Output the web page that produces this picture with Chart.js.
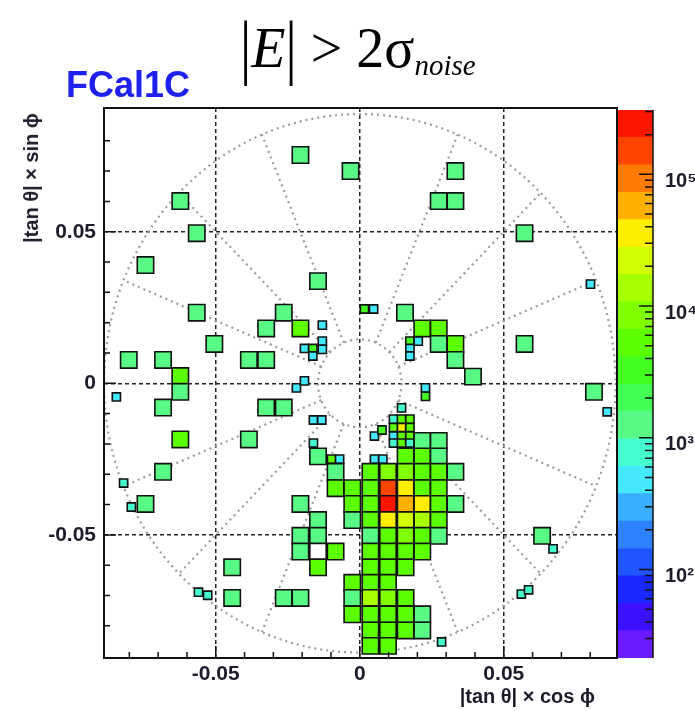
<!DOCTYPE html>
<html>
<head>
<meta charset="utf-8">
<script src="https://cdn.jsdelivr.net/npm/chart.js@4.4.1/dist/chart.umd.min.js"></script>
<style>
  html, body { margin: 0; padding: 0; background: #fff; }
  #wrap { position: relative; width: 695px; height: 711px; overflow: hidden; font-family: "Liberation Sans", Arial, sans-serif; }
  #main { position: absolute; left: 0; top: 0; }
  #zbar { position: absolute; left: 600px; top: 0; }
  .txt { position: absolute; white-space: nowrap; line-height: 1; }
  #formula { left: 240px; top: 20px; font-family: "Liberation Serif", serif; font-size: 56px; color: #000; }
  #formula .bar { display: inline-block; transform: scaleY(1.3); transform-origin: 50% 62%; }
  #formula .sub { font-size: 29px; position: relative; top: 8px; }
  #det { left: 66px; top: 67px; font-size: 36px; font-weight: bold; color: #2020ee; }
  #ytitle { left: 31px; top: 178px; font-size: 20px; font-weight: bold; color: #1c1c2c; transform: translate(-50%, -50%) rotate(-90deg); }
  #xtitle { right: 100px; top: 686px; font-size: 20px; font-weight: bold; color: #1c1c2c; }
</style>
</head>
<body>
<div id="wrap">
  <canvas id="main" width="695" height="711"></canvas>
  <canvas id="zbar" width="95" height="711"></canvas>
  <div class="txt" id="formula"><span class="bar">|</span><i>E</i><span class="bar">|</span> &gt; 2σ<i class="sub">noise</i></div>
  <div class="txt" id="det">FCal1C</div>
  <div class="txt" id="ytitle">|tan θ| × sin ϕ</div>
  <div class="txt" id="xtitle">|tan θ| × cos ϕ</div>
</div>
<script>
// cells: centre (|tan θ| cos ϕ, |tan θ| sin ϕ), content, cell kind (L = full tile, S = small edge tile)
const cellX = [
  // upper half
  -0.0206, -0.0032, 0.0332, -0.0623, 0.0274, 0.0332, -0.0566, 0.0572, -0.0744, -0.0145,
  0.0801, -0.0566, -0.0264, 0.0157, 0.0016, 0.0048, -0.0325, -0.0206, -0.0130, 0.0217,
  0.0274, -0.0505, 0.0274, 0.0332, 0.0572, -0.0130, -0.0130, -0.0192, -0.0163, -0.0163,
  0.0174, 0.0203, 0.0174, 0.0174, -0.0802, -0.0683, -0.0385, -0.0325, 0.0332, -0.0623, 0.0393,
  // middle and outer ring
  -0.0623, -0.0683, -0.0845, -0.0220, -0.0192, 0.0228, 0.0228, 0.0813, 0.0859, -0.0325,
  -0.0264, -0.0161, -0.0132, -0.0623, -0.0385, -0.0161, -0.0683, -0.0820, -0.0744, -0.0793,
  -0.0443, -0.0443, -0.0264, -0.0206, -0.0560, -0.0528, 0.0633, 0.0671, 0.0561, 0.0586, 0.0284,
  // small tiles next to the beam pipe
  0.0145, 0.0117, 0.0145, 0.0174, 0.0117, 0.0145, 0.0174, 0.0117, 0.0145, 0.0174,
  0.0117, 0.0145, 0.0174, 0.0051, 0.0077, 0.0051, 0.0080, -0.0098, -0.0070,
  // hot cluster
  0.0217, 0.0274,
  -0.0145, 0.0159, 0.0217, 0.0274,
  -0.0084, 0.0037, 0.0098, 0.0159, 0.0217, 0.0274, 0.0332,
  -0.0084, -0.0026, 0.0037, 0.0098, 0.0159, 0.0217, 0.0274,
  -0.0206, -0.0026, 0.0037, 0.0098, 0.0159, 0.0217, 0.0274, 0.0332,
  -0.0145, -0.0026, 0.0037, 0.0098, 0.0159, 0.0217, 0.0274,
  -0.0206, -0.0145, 0.0037, 0.0098, 0.0159, 0.0217, 0.0274,
  -0.0206, -0.0145, -0.0084, 0.0037, 0.0098, 0.0159, 0.0217,
  -0.0145, 0.0037, 0.0098, 0.0159,
  -0.0026, 0.0037, 0.0098,
  -0.0026, 0.0037, 0.0098, 0.0159,
  -0.0026, 0.0037, 0.0098, 0.0159, 0.0217,
  0.0037, 0.0098, 0.0159, 0.0217,
  0.0037, 0.0098
];
const cellY = [
  0.0753, 0.0700, 0.0700, 0.0601, 0.0601, 0.0601, 0.0495, 0.0495, 0.0390, 0.0337,
  0.0327, 0.0233, 0.0233, 0.0233, 0.0245, 0.0245, 0.0181, 0.0181, 0.0192, 0.0181,
  0.0181, 0.0130, 0.0130, 0.0130, 0.0130, 0.0139, 0.0112, 0.0115, 0.0115, 0.0090,
  0.0139, 0.0139, 0.0115, 0.0090, 0.0077, 0.0077, 0.0077, 0.0077, 0.0077, 0.0024, 0.0022,
  -0.0028, -0.0080, -0.0045, -0.0015, 0.0008, -0.0015, -0.0043, -0.0028, -0.0094, -0.0080,
  -0.0080, -0.0121, -0.0121, -0.0185, -0.0185, -0.0197, -0.0292, -0.0329, -0.0398, -0.0408,
  -0.0607, -0.0708, -0.0708, -0.0708, -0.0689, -0.0699, -0.0503, -0.0546, -0.0695, -0.0681, -0.0853,
  -0.0081, -0.0118, -0.0118, -0.0118, -0.0146, -0.0146, -0.0146, -0.0174, -0.0174, -0.0174,
  -0.0197, -0.0197, -0.0197, -0.0174, -0.0154, -0.0250, -0.0250, -0.0250, -0.0250,
  -0.0190, -0.0190,
  -0.0241, -0.0241, -0.0241, -0.0241,
  -0.0292, -0.0292, -0.0292, -0.0292, -0.0292, -0.0292, -0.0292,
  -0.0346, -0.0346, -0.0346, -0.0346, -0.0346, -0.0346, -0.0346,
  -0.0398, -0.0398, -0.0398, -0.0398, -0.0398, -0.0398, -0.0398, -0.0398,
  -0.0451, -0.0451, -0.0451, -0.0451, -0.0451, -0.0451, -0.0451,
  -0.0503, -0.0503, -0.0503, -0.0503, -0.0503, -0.0503, -0.0503,
  -0.0555, -0.0555, -0.0555, -0.0555, -0.0555, -0.0555, -0.0555,
  -0.0607, -0.0607, -0.0607, -0.0607,
  -0.0658, -0.0658, -0.0658,
  -0.0708, -0.0708, -0.0708, -0.0708,
  -0.0762, -0.0762, -0.0762, -0.0762, -0.0762,
  -0.0815, -0.0815, -0.0815, -0.0815,
  -0.0866, -0.0866
];
const cellE = [
  1300, 1300, 1300, 1300, 1300, 1300, 1300, 1300, 1300, 1300,
  500, 1300, 1300, 1300, 3000, 500, 1300, 5500, 500, 5500,
  5500, 1300, 1300, 5500, 1300, 500, 500, 500, 3000, 500,
  3000, 500, 500, 500, 1300, 1300, 1300, 1300, 1300, 5500, 1300,
  1300, 1300, 500, 500, 500, 500, 3000, 1300, 500, 1300,
  1300, 500, 500, 5500, 1300, 800, 1300, 800, 1300, 800,
  1300, 1300, 1300, 1300, 800, 800, 1300, 800, 800, 800, 800,
  800, 800, 5500, 5500, 5500, 38000, 5500, 500, 5500, 5500,
  800, 5500, 800, 500, 3000, 500, 500, 5500, 500,
  1300, 1300,
  1300, 5500, 5500, 1300,
  1300, 5500, 9000, 9000, 5500, 5500, 1300,
  5500, 5500, 5500, 150000, 38000, 5500, 5500,
  1300, 5500, 5500, 250000, 60000, 38000, 5500, 1300,
  1300, 1300, 5500, 38000, 22000, 14000, 5500,
  1300, 1300, 1300, 5500, 9000, 5500, 1300,
  1300, 0, 5500, 5500, 5500, 5500, 5500,
  5500, 5500, 5500, 5500,
  5500, 5500, 5500,
  1300, 14000, 9000, 5500,
  5500, 5500, 5500, 5500, 1300,
  5500, 5500, 5500, 1300,
  5500, 5500
];
const cellKind = [
  'L', 'L', 'L', 'L', 'L', 'L', 'L', 'L', 'L', 'L',
  'S', 'L', 'L', 'L', 'S', 'S', 'L', 'L', 'S', 'L',
  'L', 'L', 'L', 'L', 'L', 'S', 'S', 'S', 'S', 'S',
  'S', 'S', 'S', 'S', 'L', 'L', 'L', 'L', 'L', 'L', 'L',
  'L', 'L', 'S', 'S', 'S', 'S', 'S', 'L', 'S', 'L',
  'L', 'S', 'S', 'L', 'L', 'S', 'L', 'S', 'L', 'S',
  'L', 'L', 'L', 'L', 'S', 'S', 'L', 'S', 'S', 'S', 'S',
  'S', 'S', 'S', 'S', 'S', 'S', 'S', 'S', 'S', 'S',
  'S', 'S', 'S', 'S', 'S', 'S', 'S', 'S', 'S'
];
// everything after the listed kinds is a full tile (hot cluster)

// tile size in |tan θ| units
const tileW = 0.0059;
const tileH = 0.0052;

// axes
const axisMajor = [-0.05, 0, 0.05];
const axisLabels = ['-0.05', '0', '0.05'];
const axisMinor = [-0.08, -0.07, -0.06, -0.05, -0.04, -0.03, -0.02, -0.01, 0, 0.01, 0.02, 0.03, 0.04, 0.05, 0.06, 0.07, 0.08];

// module outline (dotted)
const innerRadius = 0.0145;
const outerRadius = 0.0888;
const spokeAngles = [22.5, 45, 67.5, 112.5, 135, 157.5, -22.5, -45, -67.5, -112.5, -135, -157.5];

// colour scale: 20 contour levels, bottom to top
const zEdges = [21.3, 34.4, 55.5, 89.5, 144.5, 233.3, 376.7, 608.1, 981.7, 1585, 2559,
  4130, 6668, 10765, 17378, 28054, 45290, 73114, 118032, 190546, 307610];
const zColors = ['#6a1aff', '#3a10ff', '#1a28ff', '#1f55ff', '#2f82ff', '#3aaeff', '#44e8ff',
  '#44ffd0', '#58f985', '#44ff55', '#44ff22', '#5cff00', '#80ff00', '#a8ff00', '#d2ff00',
  '#ffee00', '#ffb000', '#ff7c00', '#ff4400', '#ff1400'];
const zTicks = [30, 40, 50, 60, 70, 80, 90, 100, 200, 300, 400, 500, 600, 700, 800, 900,
  1000, 2000, 3000, 4000, 5000, 6000, 7000, 8000, 9000, 10000, 20000, 30000, 40000, 50000,
  60000, 70000, 80000, 90000, 100000, 200000, 300000];
const zMajor = [100, 1000, 10000, 100000];
const zMajorLabels = ['10²', '10³', '10⁴', '10⁵'];

const labelFont = { family: 'Liberation Sans', size: 21, weight: 'bold' };
const zLabelFont = { family: 'Liberation Sans', size: 20, weight: 'bold' };
const labelColor = '#1c1c2c';

function zColor(v) {
  if (!(v > 0)) return '#ffffff';
  for (let i = 0; i < zColors.length; i++) {
    if (v < zEdges[i + 1]) return zColors[i];
  }
  return zColors[zColors.length - 1];
}

function tileSide(chart, kind) {
  const { x, y } = chart.scales;
  const w = Math.abs(x.getPixelForValue(tileW) - x.getPixelForValue(0));
  const h = Math.abs(y.getPixelForValue(tileH) - y.getPixelForValue(0));
  const s = (w + h) / 2;
  return kind === 'S' ? s / 2 : s;
}

const guides = {
  id: 'guides',
  beforeDatasetsDraw(chart) {
    const { ctx, chartArea: a, scales: { x, y } } = chart;
    const cx = x.getPixelForValue(0);
    const cy = y.getPixelForValue(0);
    ctx.save();
    ctx.beginPath();
    ctx.rect(a.left, a.top, a.width, a.height);
    ctx.clip();
    ctx.strokeStyle = '#9b9b9b';
    ctx.lineWidth = 2.2;
    ctx.setLineDash([2, 4]);
    [innerRadius, outerRadius].forEach((r) => {
      const rx = Math.abs(x.getPixelForValue(r) - cx);
      const ry = Math.abs(y.getPixelForValue(r) - cy);
      ctx.beginPath();
      ctx.ellipse(cx, cy, rx, ry, 0, 0, 2 * Math.PI);
      ctx.stroke();
    });
    spokeAngles.forEach((deg) => {
      const t = deg * Math.PI / 180;
      ctx.beginPath();
      ctx.moveTo(x.getPixelForValue(innerRadius * Math.cos(t)), y.getPixelForValue(innerRadius * Math.sin(t)));
      ctx.lineTo(x.getPixelForValue(outerRadius * Math.cos(t)), y.getPixelForValue(outerRadius * Math.sin(t)));
      ctx.stroke();
    });
    ctx.restore();
  }
};

// frame + inward ticks like ROOT
const frame = {
  id: 'frame',
  afterDatasetsDraw(chart) {
    const { ctx, chartArea: a, scales: { x, y } } = chart;
    ctx.save();
    ctx.strokeStyle = '#111';
    ctx.lineWidth = 2;
    ctx.strokeRect(a.left, a.top, a.width, a.height);
    ctx.lineWidth = 1.5;
    ctx.beginPath();
    axisMinor.forEach((v) => {
      const len = axisMajor.includes(v) ? 12 : 6;
      const px = x.getPixelForValue(v);
      ctx.moveTo(px, a.bottom);
      ctx.lineTo(px, a.bottom - len);
      const py = y.getPixelForValue(v);
      ctx.moveTo(a.left, py);
      ctx.lineTo(a.left + len, py);
    });
    ctx.stroke();
    ctx.restore();
  }
};

const zAxisTicks = {
  id: 'zAxisTicks',
  afterDraw(chart) {
    const { ctx, chartArea: a, scales: { y } } = chart;
    ctx.save();
    ctx.strokeStyle = '#111';
    ctx.lineWidth = 1.5;
    ctx.beginPath();
    ctx.moveTo(a.right, a.top);
    ctx.lineTo(a.right, a.bottom);
    zTicks.forEach((v) => {
      const len = zMajor.includes(v) ? 14 : 8;
      const py = y.getPixelForValue(v);
      ctx.moveTo(a.right, py);
      ctx.lineTo(a.right - len, py);
    });
    ctx.stroke();
    ctx.restore();
  }
};

const points = cellX.map((x, i) => ({ x: x, y: cellY[i] }));

new Chart(document.getElementById('main'), {
  type: 'scatter',
  data: {
    datasets: [{
      data: points,
      pointStyle: 'rect',
      pointRadius: (c) => tileSide(c.chart, cellKind[c.dataIndex] || 'L') / Math.SQRT2,
      pointHoverRadius: (c) => tileSide(c.chart, cellKind[c.dataIndex] || 'L') / Math.SQRT2,
      pointBackgroundColor: (c) => zColor(cellE[c.dataIndex]),
      pointHoverBackgroundColor: (c) => zColor(cellE[c.dataIndex]),
      pointBorderColor: '#111',
      pointHoverBorderColor: '#111',
      pointBorderWidth: 1.6,
      pointHoverBorderWidth: 1.6
    }]
  },
  options: {
    responsive: false,
    animation: false,
    events: [],
    layout: { padding: { left: 0, top: 108, right: 78, bottom: 0 } },
    plugins: { legend: { display: false }, tooltip: { enabled: false } },
    scales: {
      x: {
        type: 'linear',
        min: -0.0888,
        max: 0.0893,
        afterBuildTicks: (s) => { s.ticks = axisMajor.map((v) => ({ value: v })); },
        afterFit: (s) => { s.height = 53; },
        grid: { color: '#222', lineWidth: 1.5, drawTicks: false },
        border: { display: false, dash: [4, 3] },
        ticks: { padding: 4, font: labelFont, color: labelColor, maxRotation: 0, autoSkip: false,
          callback: (v, i) => axisLabels[i] }
      },
      y: {
        type: 'linear',
        min: -0.0906,
        max: 0.0908,
        afterBuildTicks: (s) => { s.ticks = axisMajor.map((v) => ({ value: v })); },
        afterFit: (s) => { s.width = 104; },
        grid: { color: '#222', lineWidth: 1.5, drawTicks: false },
        border: { display: false, dash: [4, 3] },
        ticks: { padding: 8, font: labelFont, color: labelColor, autoSkip: false,
          callback: (v, i) => axisLabels[i] }
      }
    }
  },
  plugins: [guides, frame]
});

// colour bar
new Chart(document.getElementById('zbar'), {
  type: 'bar',
  data: {
    labels: [''],
    datasets: zColors.map((col, i) => ({
      data: [[zEdges[i], zEdges[i + 1]]],
      backgroundColor: col,
      borderWidth: 0,
      grouped: false,
      barPercentage: 1,
      categoryPercentage: 1
    }))
  },
  options: {
    responsive: false,
    animation: false,
    events: [],
    layout: { padding: { left: 18, top: 110, right: 0, bottom: 53 } },
    plugins: { legend: { display: false }, tooltip: { enabled: false } },
    scales: {
      x: { display: false },
      y: {
        type: 'logarithmic',
        position: 'right',
        min: zEdges[0],
        max: zEdges[zEdges.length - 1],
        afterBuildTicks: (s) => { s.ticks = zTicks.map((v) => ({ value: v })); },
        afterFit: (s) => { s.width = 42; },
        grid: { display: false },
        border: { display: false },
        ticks: {
          autoSkip: false,
          padding: 4,
          labelOffset: 7,
          font: zLabelFont,
          color: labelColor,
          callback: (v) => {
            const k = zMajor.indexOf(v);
            return k >= 0 ? zMajorLabels[k] : '';
          }
        }
      }
    }
  },
  plugins: [zAxisTicks]
});
</script>
</body>
</html>
